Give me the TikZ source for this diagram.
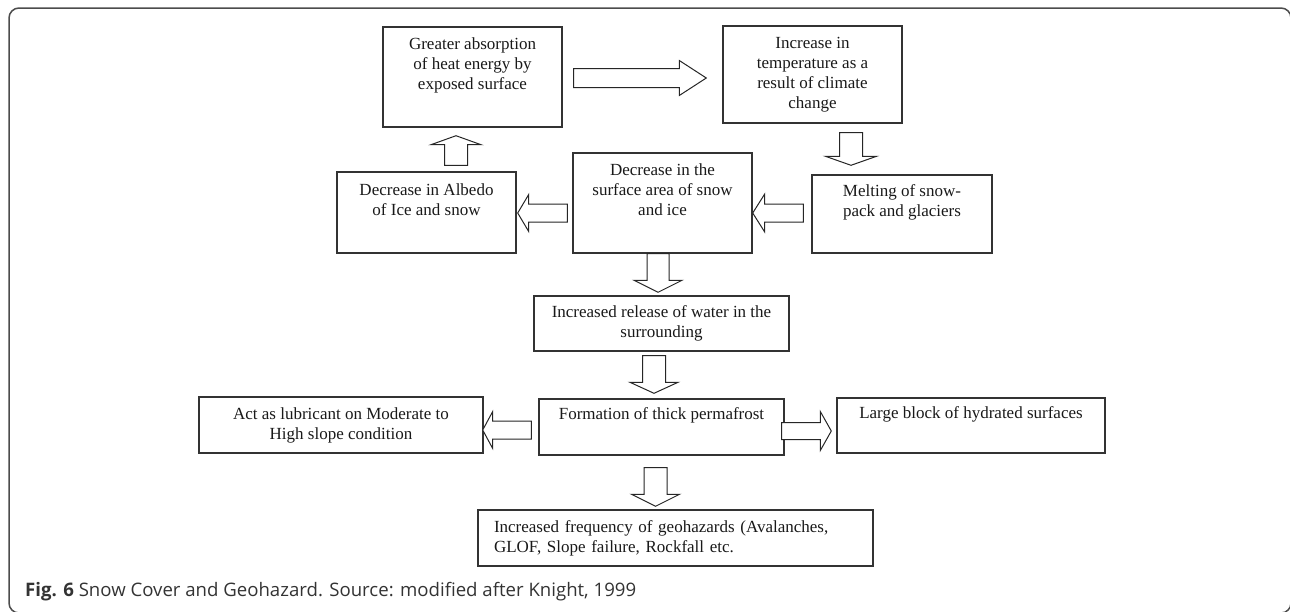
\documentclass[tikz,border=0pt]{standalone}
\usepackage{fontspec}
\setmainfont{Liberation Serif}
\newfontfamily\capfont{Open Sans}
\usetikzlibrary{calc}

\begin{document}
\begin{tikzpicture}[x=1pt, y=-1pt,
    box/.style={draw=black!80, line width=1.4pt, align=center, text=black!90,
      font=\fontsize{17}{20}\selectfont},
    fat/.style args={#1/#2/#3}{draw=black!85, fill=white, line width=1pt, line join=miter,
      to path={let \p1=(\tikztostart), \p2=(\tikztotarget), \p3=($(\p2)!#3!(\p1)$) in
        ($(\p1)!#1!90:(\p2)$) -- ($(\p3)!#1!-90:(\p1)$) -- ($(\p3)!#2!-90:(\p1)$) -- (\p2)
        -- ($(\p3)!#2!90:(\p1)$) -- ($(\p3)!#1!90:(\p1)$) -- ($(\p1)!#1!-90:(\p2)$) -- cycle}}]
  \clip (0,0) rectangle (1290,611);
  \draw[black!70, line width=1.5pt, rounded corners=10pt] (9,8) rectangle (1291,613);

  \node[box, minimum width=179pt, minimum height=100pt] (absorb) at (472.5,77)
    {Greater absorption\\of heat energy by\\exposed surface\\ \strut};
  \node[box, minimum width=179pt, minimum height=97pt] (temp) at (812.5,74.5)
    {Increase in\\temperature as a\\result of climate\\change};
  \node[box, minimum width=180pt, minimum height=78pt] (melt) at (902,214)
    {Melting of snow-\\pack and glaciers\\ \strut};
  \node[box, minimum width=179pt, minimum height=100pt] (area) at (662.5,203)
    {Decrease in the\\surface area of snow\\and ice\\ \strut};
  \node[box, minimum width=179pt, minimum height=81pt] (albedo) at (426.5,212.5)
    {Decrease in Albedo\\of Ice and snow\\ \strut};
  \node[box, minimum width=255pt, minimum height=55pt] (release) at (661.5,323.5)
    {Increased release of water in the\\surrounding};
  \node[box, minimum width=245pt, minimum height=56pt] (perma) at (661.5,427)
    {Formation of thick permafrost\\ \strut};
  \node[box, minimum width=284pt, minimum height=56pt] (lubric) at (341,425)
    {Act as lubricant on Moderate to\\High slope condition};
  \node[box, minimum width=268pt, minimum height=55pt] (block) at (971,425.5)
    {Large block of hydrated surfaces\\ \strut};
  \node[box, align=left, text width=363pt, inner xsep=16pt, minimum height=56pt] (hazard) at (675.5,538)
    {\makebox[363pt][s]{Increased frequency of geohazards (Avalanches,}\\GLOF, Slope failure, Rockfall etc.};

  \draw[fat=9.5pt/17.5pt/27pt] ($(absorb.east)+(11,1)$) to ($(temp.west)+(-16,3.5)$);
  \draw[fat=11.5pt/25.5pt/9pt] ($(temp.south)+(38.5,9)$) to ($(melt.north)+(-51,-9)$);
  \draw[fat=9pt/19pt/12pt] ($(melt.west)+(-8,-1)$) to ($(area.east)+(0,10)$);
  \draw[fat=9pt/18.5pt/11pt] ($(area.west)+(-5,10)$) to ($(albedo.east)+(1,0.5)$);
  \draw[fat=11.5pt/25pt/9pt] ($(albedo.north)+(29.5,-6)$) to ($(absorb.south)+(-16.5,8)$);
  \draw[fat=11pt/24pt/12pt] ($(area.south)+(-4.5,0)$) to ($(release.north)+(-3.5,-3)$);
  \draw[fat=11.5pt/24pt/11pt] ($(release.south)+(-7.5,4)$) to ($(perma.north)+(-7.5,-5)$);
  \draw[fat=9pt/18.5pt/10pt] ($(perma.west)+(-7,3)$) to ($(lubric.east)+(-1,5)$);
  \draw[fat=8.5pt/19.5pt/11pt] ($(perma.east)+(-3,4)$) to ($(block.west)+(-5,5.5)$);
  \draw[fat=11.5pt/24pt/12pt] ($(perma.south)+(-6,12)$) to ($(hazard.north)+(-20,-3)$);

  \node[anchor=base west, inner sep=0pt, text=black!80,
    font=\capfont\fontsize{18.6}{22}\selectfont] (caption) at (25,596)
    {\textbf{Fig. 6} Snow Cover and Geohazard. Source: modified after Knight, 1999};
\end{tikzpicture}
\end{document}
